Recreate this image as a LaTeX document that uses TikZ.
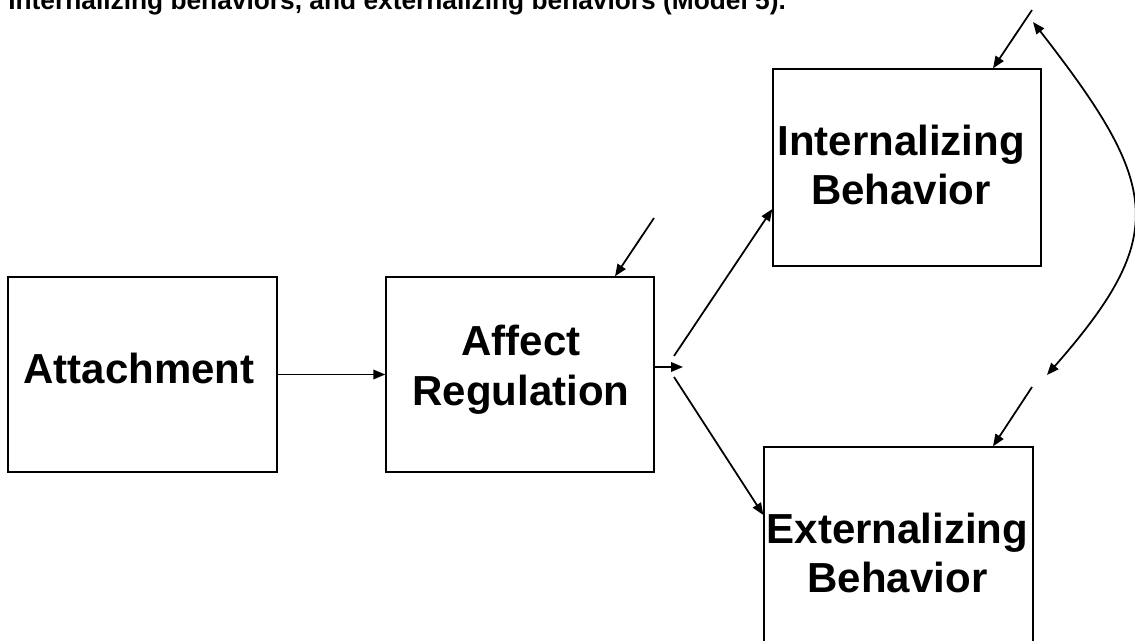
\documentclass[tikz,border=0pt]{standalone}
\usepackage{fontspec}
\setmainfont{Liberation Sans}
\usetikzlibrary{arrows.meta,calc}

\begin{document}
\begin{tikzpicture}[
  x={0.02cm}, y={-0.02cm},
  box/.style={draw, line width=0.8pt, inner sep=0pt, minimum height=3.9cm},
  boxtext/.style={inner sep=0pt, align=center,
    font={\fontsize{23.9pt}{28.35pt}\selectfont\bfseries}},
  arr/.style={line width=1pt, -{Triangle[length=0.24cm, width=0.19cm]}},
  biarr/.style={line width=1pt, {Triangle[length=0.24cm, width=0.19cm]}-{Triangle[length=0.24cm, width=0.19cm]}},
]
\useasboundingbox (0,0) rectangle (1135,641);
\clip (0,0) rectangle (1135,641);

% caption line
\node[anchor=base west, inner sep=0pt, font={\fontsize{14.97pt}{18pt}\selectfont\bfseries}]
  (title) at (8,10) {Internalizing behaviors, and externalizing behaviors (Model 5).};

% boxes
\node[box, minimum width=5.38cm] (att) at (142.5,374.5) {};
\node[box, minimum width=5.36cm] (aff) at (520,374.5) {};
\node[box, minimum width=5.36cm, minimum height=3.94cm] (int) at (907,167.5) {};
\node[box, minimum width=5.38cm, minimum height=3.94cm] (ext) at (898.5,545.5) {};

% box labels
\node[boxtext] (attT) at (139,368) {Attachment};
\node[boxtext] (affT) at (521,369.5) {Affect\\Regulation};
\node[boxtext] (intT) at (901,165) {Internalizing\\Behavior};
\node[boxtext] (extT) at (897.5,553) {Externalizing\\Behavior};

% free ends of the connectors
\coordinate (affOut) at (683,367);
\coordinate (forkUp) at (674,356);
\coordinate (forkDn) at (674,377);
\coordinate (eAff) at (654,218);
\coordinate (eInt) at (1032,10);
\coordinate (eExt) at (1032,387);
\coordinate (covA) at (1033,22);
\coordinate (covB) at (1047,375);

% paths
\draw[arr] (att.east) -- (aff.west);
\draw[arr] ($(aff.east)+(0,-7.5)$) -- (affOut);
\draw[arr] (forkUp) -- ($(int.west)+(0,41.5)$);
\draw[arr] (forkDn) -- ($(ext.west)+(0,-30.5)$);

% residual arrows
\draw[arr] (eAff) -- ($(aff.north)+(95,0)$);
\draw[arr] (eInt) -- ($(int.north)+(86,0)$);
\draw[arr] (eExt) -- ($(ext.north)+(94.5,0)$);

% residual covariance
\draw[biarr] (covA) .. controls (1160,185) and (1170,235) .. (covB);
\end{tikzpicture}
\end{document}
